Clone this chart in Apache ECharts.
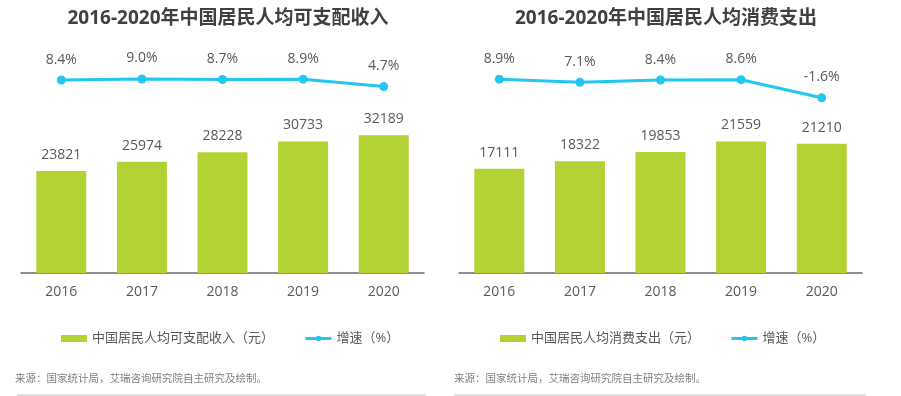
<!DOCTYPE html>
<html>
<head>
<meta charset="utf-8">
<script src="https://cdn.jsdelivr.net/npm/echarts@6/dist/echarts.min.js"></script>
<style>
  html, body { margin: 0; padding: 0; background: #fff; }
  #main { width: 901px; height: 396px; }
</style>
</head>
<body>
<div id="main"></div>
<script>
// 数据
var years = ['2016', '2017', '2018', '2019', '2020'];
var incomeValues = [23821, 25974, 28228, 30733, 32189];
var incomeGrowth = [8.4, 9.0, 8.7, 8.9, 4.7];
var spendValues = [17111, 18322, 19853, 21559, 21210];
var spendGrowth = [8.9, 7.1, 8.4, 8.6, -1.6];

var FONT = '"Open Sans", "Noto Sans CJK SC", sans-serif';
var GREEN = '#b3d334';
var BLUE = '#22c6ef';
var TEXT = '#595959';

var myChart = echarts.init(document.getElementById('main'));

function catAxis(grid) {
  return {
    type: 'category',
    gridIndex: grid,
    data: years,
    axisLine: { lineStyle: { color: '#6b6b6b', width: 1.5 } },
    axisTick: { show: false },
    axisLabel: { color: TEXT, fontSize: 14, margin: 12, fontFamily: FONT }
  };
}
function hiddenAxis(grid, min, max) {
  return {
    type: 'value', gridIndex: grid, min: min, max: max,
    show: false, splitLine: { show: false }
  };
}
function barSeries(name, data, x, y) {
  return {
    name: name, type: 'bar', xAxisIndex: x, yAxisIndex: y,
    data: data, barWidth: 50,
    itemStyle: { color: GREEN },
    label: { show: true, position: 'top', distance: 9, color: TEXT, fontSize: 14, fontFamily: FONT }
  };
}
function lineSeries(name, data, x, y) {
  return {
    name: name, type: 'line', xAxisIndex: x, yAxisIndex: y,
    data: data, symbol: 'circle', symbolSize: 9,
    lineStyle: { color: BLUE, width: 3 },
    itemStyle: { color: BLUE },
    label: {
      show: true, position: 'top', distance: 9, color: TEXT, fontSize: 14, fontFamily: FONT,
      formatter: function (p) { return p.value.toFixed(1) + '%'; }
    }
  };
}
function legend(left, names) {
  return {
    left: left, top: 327, itemGap: 30, itemWidth: 26, itemHeight: 7,
    data: [
      { name: names[0], icon: 'rect' },
      { name: names[1], lineStyle: { width: 3 } }
    ],
    textStyle: { color: TEXT, fontSize: 13, fontFamily: FONT }
  };
}

var option = {
  animation: false,
  title: [
    { text: '2016-2020年中国居民人均可支配收入', left: 223, top: 4, textAlign: 'center',
      textStyle: { fontSize: 19, fontWeight: 'bold', color: '#404040', fontFamily: FONT } },
    { text: '2016-2020年中国居民人均消费支出', left: 661, top: 4, textAlign: 'center',
      textStyle: { fontSize: 19, fontWeight: 'bold', color: '#404040', fontFamily: FONT } }
  ],
  grid: [
    { left: 21, width: 403, top: 30, height: 243 },
    { left: 459, width: 403, top: 30, height: 243 }
  ],
  xAxis: [catAxis(0), catAxis(1)],
  yAxis: [
    hiddenAxis(0, 0, 56780),
    hiddenAxis(0, -100, 36.5),
    hiddenAxis(1, 0, 39840),
    hiddenAxis(1, -100, 36.5)
  ],
  legend: [
    legend(56, ['中国居民人均可支配收入（元）', '增速（%）']),
    legend(495, ['中国居民人均消费支出（元）', '增速（%） '])
  ],
  series: [
    barSeries('中国居民人均可支配收入（元）', incomeValues, 0, 0),
    lineSeries('增速（%）', incomeGrowth, 0, 1),
    barSeries('中国居民人均消费支出（元）', spendValues, 1, 2),
    lineSeries('增速（%） ', spendGrowth, 1, 3)
  ],
  graphic: [
    { type: 'text', left: 15, top: 374,
      style: { text: '来源：国家统计局，艾瑞咨询研究院自主研究及绘制。', fill: '#7f7f7f', fontSize: 10.5, fontFamily: FONT } },
    { type: 'text', left: 454, top: 374,
      style: { text: '来源：国家统计局，艾瑞咨询研究院自主研究及绘制。', fill: '#7f7f7f', fontSize: 10.5, fontFamily: FONT } },
    { type: 'line', shape: { x1: 17, y1: 395, x2: 426, y2: 395 }, style: { stroke: '#bfbfbf', lineWidth: 1 } },
    { type: 'line', shape: { x1: 454, y1: 395, x2: 866, y2: 395 }, style: { stroke: '#bfbfbf', lineWidth: 1 } }
  ]
};

myChart.setOption(option);
</script>
</body>
</html>
